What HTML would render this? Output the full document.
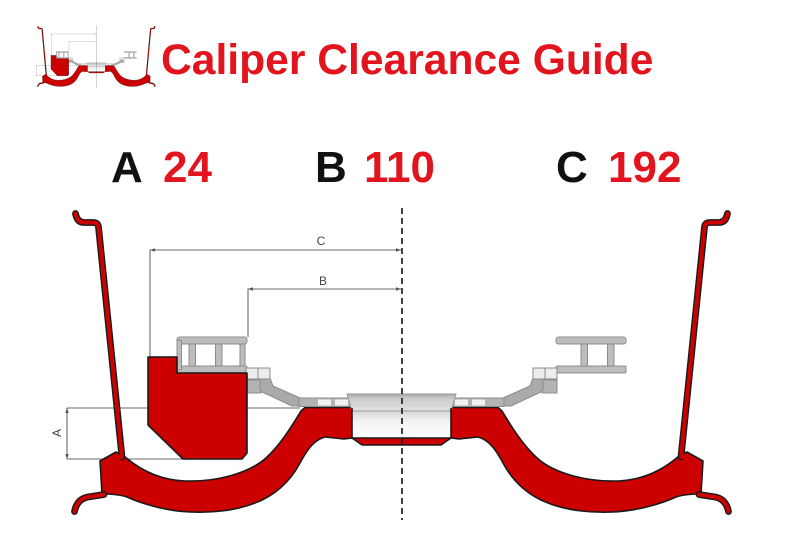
<!DOCTYPE html>
<html>
<head>
<meta charset="utf-8">
<style>
  html, body { margin: 0; padding: 0; background: #ffffff; }
  body { width: 799px; height: 534px; overflow: hidden; }
  svg { display: block; }
  .t { font-family: "Liberation Sans", Arial, sans-serif; font-weight: bold; }
</style>
</head>
<body>
<svg width="799" height="534" viewBox="0 0 799 534" xmlns="http://www.w3.org/2000/svg">
  <defs>
    <linearGradient id="boreg" x1="0" y1="0" x2="0" y2="1">
      <stop offset="0" stop-color="#cfcfcf"/>
      <stop offset="0.45" stop-color="#f4f4f4"/>
      <stop offset="1" stop-color="#ffffff"/>
    </linearGradient>
    <linearGradient id="hatg" x1="0" y1="0" x2="0" y2="1">
      <stop offset="0" stop-color="#a9a9a9"/>
      <stop offset="0.3" stop-color="#cdcdcd"/>
      <stop offset="1" stop-color="#e2e2e2"/>
    </linearGradient>

    <!-- one half of the wheel (left side) -->
    <g id="half">
      <!-- barrel -->
      <path d="M100,461 L116,452 L124,456 C140,470 160,480 185,481 C215,482 248,474 266,458 C282,443 293,424 301,411 L305,407.5 L352,407.5 L352,438 L344,439 L325,437 C313,440 306,452 300,463 C290,482 274,496 255,503 C235,511 210,513 190,512 C165,511 140,503 127,497 C118,494 108,494 102,494 Z"
            fill="#cc0000" stroke="#1a1a1a" stroke-width="1.6" stroke-linejoin="round"/>
      <!-- rim wall + top curl -->
      <path d="M122,457 L98.5,227 C98,223.5 96.5,222.5 93,222.5 L84,222.5 C79,222.5 76.5,219 75.5,213.5"
            fill="none" stroke="#1a1a1a" stroke-width="6.8" stroke-linecap="round" stroke-linejoin="round"/>
      <path d="M122,457 L98.5,227 C98,223.5 96.5,222.5 93,222.5 L84,222.5 C79,222.5 76.5,219 75.5,213.5"
            fill="none" stroke="#cc0000" stroke-width="4" stroke-linecap="round" stroke-linejoin="round"/>
      <!-- bottom lip curl -->
      <path d="M104,494.5 L88,497 C80,498.5 76,504 74.5,511.5"
            fill="none" stroke="#1a1a1a" stroke-width="6.8" stroke-linecap="round" stroke-linejoin="round"/>
      <path d="M104,494.5 L88,497 C80,498.5 76,504 74.5,511.5"
            fill="none" stroke="#cc0000" stroke-width="4" stroke-linecap="round" stroke-linejoin="round"/>
      <!-- junction fill to hide seams -->
      <path d="M101,462 L116,453 L123,457 L108,470 Z" fill="#cc0000"/>

      <!-- H bracket -->
      <g fill="#bdbdbd" stroke="#8c8c8c" stroke-width="1">
        <rect x="177" y="337" width="70" height="7" rx="2.5"/>
        <rect x="177" y="366" width="70" height="7" rx="1.5"/>
        <rect x="189" y="344" width="6.5" height="22"/>
        <rect x="215.5" y="344" width="6.5" height="22"/>
      </g>
      <!-- bolt blocks -->
      <g stroke="#8c8c8c" stroke-width="1">
        <rect x="246" y="380" width="15" height="13" fill="#b3b3b3"/>
        <polygon points="260,378 270,378 273,386 299,397.5 299,406 292,406 262,392 260,390" fill="#aaaaaa"/>
        <rect x="246" y="368" width="12" height="11" fill="#ececec"/>
        <rect x="258" y="368" width="12" height="11" fill="#ececec"/>
      </g>
      <!-- flat band -->
      <rect x="299" y="398" width="51" height="8.5" fill="#b3b3b3" stroke="#8c8c8c" stroke-width="1"/>
      <rect x="318" y="399.5" width="13" height="6" fill="#f2f2f2"/>
      <rect x="335" y="399.5" width="13" height="6" fill="#f2f2f2"/>
    </g>

    <!-- full diagram (no text) -->
    <g id="diagram">
      <!-- dimension lines -->
      <g fill="none" stroke="#6a6a6a" stroke-width="1.1">
        <path d="M150,357 V250 H401"/>
        <path d="M248,337 V289 H401"/>
        <path d="M67,408 H300"/>
        <path d="M67,459 H183"/>
        <path d="M67,408 V459"/>
      </g>
      <g fill="#555">
        <polygon points="150,250 155,248.3 155,251.7"/>
        <polygon points="401,250 396,248.3 396,251.7"/>
        <polygon points="248,289 253,287.3 253,290.7"/>
        <polygon points="401,289 396,287.3 396,290.7"/>
        <polygon points="67,408 65.3,413 68.7,413"/>
        <polygon points="67,459 65.3,454 68.7,454"/>
      </g>

      <use href="#half"/>
      <use href="#half" transform="translate(803,0) scale(-1,1)"/>

      <!-- extra posts on caliper-side bracket -->
      <g fill="#bdbdbd" stroke="#8c8c8c" stroke-width="1">
        <rect x="177" y="340" width="4.5" height="30" rx="1.5"/>
        <rect x="240" y="344" width="5" height="22"/>
      </g>

      <!-- caliper -->
      <path d="M148,357 L177,357 L177,373 L247,373 L247,453 L242,459 L183,459 L148,425 Z"
            fill="#cc0000" stroke="#1a1a1a" stroke-width="1.6" stroke-linejoin="round"/>

      <!-- centre hub -->
      <rect x="352" y="408" width="99" height="30.5" fill="url(#boreg)"/>
      <polygon points="347,394 456,394 451,411 352,411" fill="url(#hatg)" stroke="#9a9a9a" stroke-width="1"/>
      <line x1="352" y1="408" x2="352" y2="438" stroke="#1a1a1a" stroke-width="1.6"/>
      <line x1="451" y1="408" x2="451" y2="438" stroke="#1a1a1a" stroke-width="1.6"/>
      <polygon points="352,438 451,438 441,445 362,445" fill="#cc0000" stroke="#1a1a1a" stroke-width="1.4" stroke-linejoin="round"/>

      <!-- centre dashed line -->
      <line x1="402" y1="208" x2="402" y2="520" stroke="#222" stroke-width="1.7" stroke-dasharray="6,4"/>
    </g>
  </defs>

  <!-- logo icon -->
  <use href="#diagram" transform="translate(24.5,-16) scale(0.179,0.2)"/>

  <!-- title -->
  <text class="t" x="161" y="74" font-size="42.6" fill="#e2141d">Caliper Clearance Guide</text>

  <!-- values -->
  <text class="t" x="111" y="182" font-size="44" fill="#111">A</text>
  <text class="t" x="163" y="182" font-size="44" fill="#e2141d">24</text>
  <text class="t" x="315" y="182" font-size="44" fill="#111">B</text>
  <text class="t" x="364" y="182" font-size="44" fill="#e2141d">110</text>
  <text class="t" x="556" y="182" font-size="44" fill="#111">C</text>
  <text class="t" x="608" y="182" font-size="44" fill="#e2141d">192</text>

  <!-- main diagram -->
  <use href="#diagram"/>

  <!-- dimension labels -->
  <text x="321" y="245" font-size="12" fill="#444" text-anchor="middle" font-family="Liberation Sans, Arial, sans-serif">C</text>
  <text x="323" y="285" font-size="12" fill="#444" text-anchor="middle" font-family="Liberation Sans, Arial, sans-serif">B</text>
  <text x="0" y="0" font-size="12" fill="#444" text-anchor="middle" font-family="Liberation Sans, Arial, sans-serif" transform="translate(61,433) rotate(-90)">A</text>
</svg>
</body>
</html>
